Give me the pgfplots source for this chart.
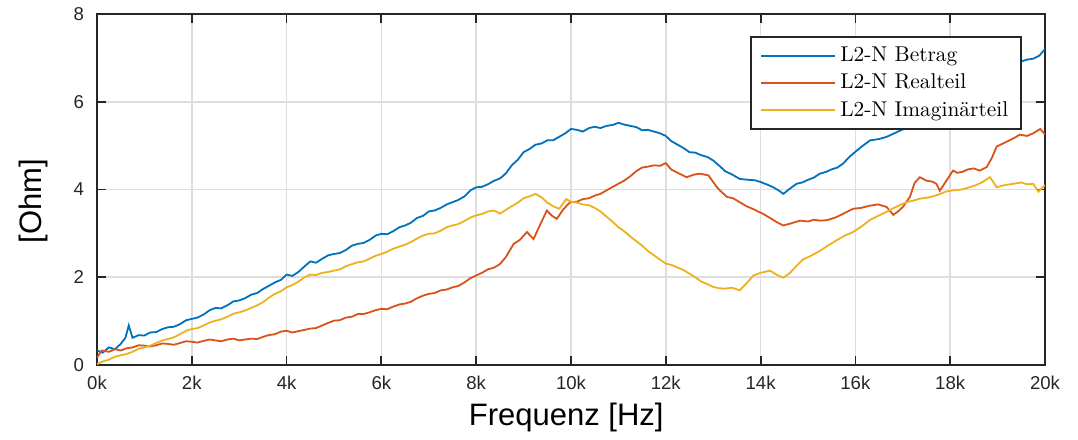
\documentclass[border=0pt]{standalone}
\usepackage{pgfplots}
\pgfplotsset{compat=1.18}
\usepackage{fontspec}
\newfontfamily\arial{Liberation Sans}
\definecolor{matblue}{RGB}{0,114,189}
\definecolor{matred}{RGB}{217,83,25}
\definecolor{matyellow}{RGB}{237,177,32}
\definecolor{axisgray}{RGB}{38,38,38}
\definecolor{gridgray}{RGB}{222,222,222}
\begin{document}
\begin{tikzpicture}
\begin{axis}[
  scale only axis, width=474pt, height=175.5pt,
  xmin=0, xmax=20, ymin=0, ymax=8,
  xtick={0,2,...,20}, xticklabels={0k,2k,4k,6k,8k,10k,12k,14k,16k,18k,20k},
  ytick={0,2,4,6,8}, yticklabels={0,2,4,6,8},
  grid=major, major grid style={color=gridgray, line width=0.8pt},
  axis line style={color=axisgray, line width=0.9pt},
  tick style={color=axisgray, line width=0.9pt},
  major tick length=4.5pt, tick align=inside,
  ticklabel style={font=\arial\fontsize{9.3}{11}\selectfont, text=axisgray},
  xticklabel style={yshift=-2pt},
  yticklabel style={xshift=-3pt},
  xlabel={Frequenz [Hz]}, ylabel={[Ohm]},
  label style={font=\arial\fontsize{15.5}{18}\selectfont, text=black},
  xlabel style={at={(axis description cs:0.495,-0.151)}, anchor=center},
  ylabel style={at={(axis description cs:-0.0675,0.466)}, anchor=center},
  no markers,
  legend style={at={(rel axis cs:0.976,0.937)}, anchor=north east, draw=axisgray, line width=1pt, fill=white, font=\fontsize{10.7}{13}\selectfont, inner xsep=4.5pt, inner ysep=3pt, row sep=0.7pt},
  legend cell align=left,
  legend image code/.code={\draw[#1] (0pt,0pt) -- (37pt,0pt);},
]
\addlegendimage{draw=matblue, line width=0.9pt}
\addlegendentry{L2-N Betrag}
\addlegendimage{draw=matred, line width=0.9pt}
\addlegendentry{L2-N Realteil}
\addlegendimage{draw=matyellow, line width=0.9pt}
\addlegendentry{L2-N Imaginärteil}
\addplot[draw=matblue, line width=0.9pt, forget plot] table {
0.00 0.33
0.12 0.28
0.25 0.40
0.38 0.36
0.50 0.48
0.60 0.62
0.67 0.90
0.75 0.62
0.88 0.68
1.00 0.67
1.12 0.74
1.25 0.75
1.38 0.82
1.50 0.86
1.62 0.87
1.75 0.93
1.88 1.02
2.00 1.05
2.12 1.08
2.25 1.15
2.38 1.25
2.50 1.30
2.62 1.29
2.75 1.36
2.88 1.45
3.00 1.47
3.12 1.52
3.25 1.60
3.38 1.64
3.50 1.73
3.62 1.80
3.75 1.88
3.88 1.94
4.00 2.06
4.12 2.03
4.25 2.12
4.38 2.25
4.50 2.36
4.62 2.33
4.75 2.42
4.88 2.50
5.00 2.53
5.12 2.55
5.25 2.62
5.38 2.72
5.50 2.76
5.62 2.78
5.75 2.85
5.88 2.95
6.00 2.99
6.12 2.98
6.25 3.05
6.38 3.14
6.50 3.18
6.62 3.24
6.75 3.35
6.88 3.40
7.00 3.50
7.12 3.52
7.25 3.58
7.38 3.66
7.50 3.71
7.62 3.76
7.75 3.84
7.88 3.98
8.00 4.05
8.12 4.06
8.25 4.12
8.38 4.20
8.50 4.25
8.62 4.36
8.75 4.55
8.88 4.68
9.00 4.85
9.12 4.92
9.25 5.02
9.38 5.05
9.50 5.12
9.62 5.12
9.75 5.20
9.88 5.28
10.00 5.38
10.12 5.36
10.25 5.32
10.38 5.40
10.50 5.43
10.62 5.40
10.75 5.45
10.88 5.47
11.00 5.52
11.12 5.48
11.25 5.45
11.38 5.42
11.50 5.35
11.62 5.36
11.75 5.32
11.88 5.28
12.00 5.22
12.12 5.10
12.25 5.02
12.38 4.94
12.50 4.85
12.62 4.84
12.75 4.78
12.88 4.74
13.00 4.66
13.12 4.55
13.25 4.42
13.40 4.34
13.56 4.24
13.75 4.22
13.88 4.21
14.00 4.17
14.12 4.12
14.25 4.06
14.38 3.98
14.48 3.90
14.62 4.02
14.76 4.13
14.88 4.16
15.00 4.22
15.12 4.27
15.25 4.36
15.38 4.40
15.50 4.46
15.62 4.50
15.74 4.59
15.88 4.75
16.10 4.95
16.31 5.12
16.50 5.15
16.66 5.20
16.82 5.28
17.10 5.42
17.25 5.52
17.50 5.65
17.75 5.80
18.00 5.95
18.25 6.10
18.50 6.25
18.75 6.40
19.00 6.60
19.25 6.78
19.50 6.92
19.62 6.96
19.75 6.98
19.88 7.05
20.00 7.20
};
\addplot[draw=matred, line width=0.9pt, forget plot] table {
0.00 0.17
0.10 0.33
0.25 0.30
0.38 0.36
0.50 0.33
0.62 0.38
0.75 0.40
0.88 0.45
1.00 0.44
1.12 0.42
1.25 0.45
1.38 0.49
1.50 0.48
1.62 0.46
1.75 0.50
1.88 0.54
2.00 0.53
2.12 0.51
2.25 0.55
2.38 0.58
2.50 0.56
2.62 0.54
2.75 0.58
2.88 0.60
3.00 0.56
3.12 0.58
3.25 0.60
3.38 0.59
3.50 0.64
3.62 0.68
3.75 0.70
3.88 0.76
4.00 0.78
4.12 0.74
4.25 0.77
4.38 0.80
4.50 0.83
4.62 0.84
4.75 0.90
4.88 0.96
5.00 1.01
5.12 1.02
5.25 1.08
5.38 1.10
5.50 1.16
5.62 1.16
5.75 1.20
5.88 1.25
6.00 1.28
6.12 1.27
6.25 1.33
6.38 1.38
6.50 1.40
6.62 1.44
6.75 1.52
6.88 1.58
7.00 1.62
7.12 1.64
7.25 1.70
7.38 1.72
7.50 1.77
7.62 1.80
7.75 1.88
7.88 1.98
8.00 2.04
8.12 2.10
8.25 2.18
8.38 2.22
8.50 2.30
8.62 2.45
8.79 2.76
8.92 2.85
9.07 3.03
9.14 2.95
9.21 2.87
9.35 3.20
9.49 3.52
9.60 3.40
9.70 3.33
9.84 3.55
9.98 3.71
10.12 3.72
10.25 3.78
10.38 3.80
10.50 3.86
10.62 3.90
10.75 3.98
10.88 4.06
11.00 4.13
11.12 4.20
11.25 4.30
11.38 4.42
11.50 4.50
11.62 4.52
11.75 4.55
11.88 4.54
12.00 4.60
12.12 4.45
12.25 4.38
12.44 4.28
12.60 4.34
12.72 4.36
12.90 4.32
13.08 4.05
13.14 3.98
13.29 3.83
13.42 3.80
13.56 3.71
13.70 3.62
13.85 3.55
14.06 3.44
14.20 3.35
14.35 3.25
14.48 3.18
14.62 3.22
14.83 3.29
15.00 3.27
15.12 3.31
15.25 3.29
15.40 3.30
15.60 3.37
15.75 3.45
15.95 3.56
16.12 3.58
16.30 3.63
16.48 3.66
16.66 3.60
16.80 3.42
16.90 3.50
17.00 3.60
17.15 3.83
17.25 4.15
17.36 4.28
17.50 4.20
17.62 4.18
17.71 4.13
17.78 3.97
17.92 4.20
18.06 4.43
18.15 4.38
18.25 4.40
18.38 4.46
18.50 4.48
18.62 4.43
18.77 4.51
18.88 4.72
18.98 4.98
19.12 5.05
19.25 5.12
19.36 5.18
19.47 5.25
19.62 5.22
19.75 5.28
19.90 5.38
20.00 5.25
};
\addplot[draw=matyellow, line width=0.9pt, forget plot] table {
0.00 0.02
0.12 0.08
0.25 0.12
0.38 0.19
0.50 0.22
0.62 0.25
0.75 0.30
0.88 0.37
1.00 0.40
1.12 0.44
1.25 0.50
1.38 0.56
1.50 0.59
1.62 0.63
1.75 0.70
1.88 0.78
2.00 0.82
2.12 0.84
2.25 0.90
2.38 0.97
2.50 1.01
2.62 1.04
2.75 1.10
2.88 1.17
3.00 1.20
3.12 1.24
3.25 1.30
3.38 1.36
3.50 1.43
3.62 1.53
3.75 1.62
3.88 1.68
4.00 1.77
4.12 1.82
4.25 1.90
4.38 2.00
4.50 2.06
4.62 2.05
4.75 2.10
4.88 2.12
5.00 2.15
5.12 2.18
5.25 2.25
5.38 2.30
5.50 2.34
5.62 2.36
5.75 2.42
5.88 2.49
6.00 2.53
6.12 2.58
6.25 2.65
6.38 2.70
6.50 2.74
6.62 2.80
6.75 2.88
6.88 2.95
7.00 2.99
7.12 3.00
7.25 3.06
7.38 3.14
7.50 3.18
7.62 3.21
7.75 3.28
7.88 3.36
8.00 3.41
8.12 3.44
8.25 3.50
8.38 3.52
8.50 3.45
8.62 3.53
8.75 3.62
8.88 3.70
9.00 3.80
9.12 3.84
9.25 3.90
9.38 3.82
9.50 3.70
9.62 3.62
9.75 3.56
9.90 3.78
10.00 3.72
10.12 3.70
10.25 3.66
10.38 3.64
10.50 3.58
10.62 3.50
10.75 3.38
10.88 3.26
11.00 3.14
11.12 3.05
11.25 2.93
11.38 2.82
11.50 2.72
11.62 2.60
11.75 2.50
11.88 2.40
12.00 2.31
12.12 2.28
12.25 2.22
12.38 2.16
12.50 2.08
12.62 2.00
12.75 1.90
12.88 1.84
13.00 1.78
13.12 1.75
13.25 1.74
13.40 1.76
13.56 1.70
13.70 1.86
13.85 2.04
14.00 2.10
14.20 2.15
14.35 2.05
14.48 1.99
14.62 2.10
14.75 2.25
14.90 2.41
15.05 2.48
15.25 2.60
15.42 2.72
15.60 2.84
15.78 2.95
15.95 3.03
16.12 3.15
16.30 3.30
16.48 3.40
16.66 3.49
16.85 3.60
17.08 3.71
17.20 3.74
17.36 3.79
17.55 3.82
17.75 3.88
17.90 3.95
18.06 3.98
18.25 4.00
18.50 4.08
18.65 4.15
18.84 4.28
18.98 4.05
19.15 4.10
19.33 4.13
19.50 4.16
19.62 4.12
19.75 4.13
19.86 3.95
20.00 4.10
};
\coordinate (ll) at (rel axis cs:0,0);
\coordinate (ur) at (rel axis cs:1,1);
\end{axis}
\path ([shift={(-48.5pt,-36.5pt)}]ll) rectangle ([shift={(16.5pt,7pt)}]ur);
\end{tikzpicture}
\end{document}
